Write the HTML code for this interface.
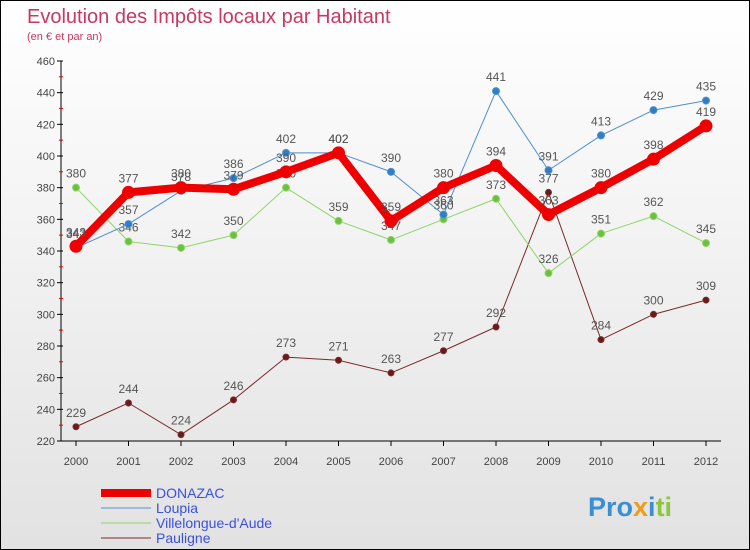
<!DOCTYPE html>
<html><head><meta charset="utf-8"><style>
body{margin:0}
#c{width:750px;height:550px;position:relative;box-sizing:border-box;border:1px solid #000;background:linear-gradient(#fff,#e2e2e2);font-family:"Liberation Sans",sans-serif;overflow:hidden}
svg text{font-family:"Liberation Sans",sans-serif}
</style></head><body>
<div id="c">
<svg width="750" height="550" id="s">
<text x="26" y="22" font-size="20" fill="#c8385f">Evolution des Impôts locaux par Habitant</text>
<text x="26" y="39" font-size="11" fill="#c8385f">(en € et par an)</text>
<g id="axes"></g><g id="series"></g>
<text x="587" y="515" font-size="27" font-weight="bold"><tspan fill="#3a8fd4">Pro</tspan><tspan fill="#f29a1a">x</tspan><tspan fill="#3a8fd4">i</tspan><tspan fill="#8cc63f">ti</tspan></text>
</svg></div>
<script>
const years=[2000,2001,2002,2003,2004,2005,2006,2007,2008,2009,2010,2011,2012];
const yTicks=[220,240,260,280,300,320,340,360,380,400,420,440,460];
const donazac=[343,377,380,379,390,402,359,380,394,363,380,398,419];
const loupia=[342,357,378,386,402,402,390,363,441,391,413,429,435];
const villelongue=[380,346,342,350,380,359,347,360,373,326,351,362,345];
const pauligne=[229,244,224,246,273,271,263,277,292,377,284,300,309];
const NS="http://www.w3.org/2000/svg";
const xS=i=>75+i*52.5, yS=v=>440-(v-220)*380/240;
function mk(t,a,p){const e=document.createElementNS(NS,t);for(const k in a)e.setAttribute(k,a[k]);p.appendChild(e);return e;}
const ax=document.getElementById('axes');
let l=mk('line',{x1:60,y1:60,x2:60,y2:440,stroke:'#000'},ax);

l=mk('line',{x1:60,y1:440,x2:720,y2:440,stroke:'#000'},ax);

yTicks.forEach((v,k)=>{const y=yS(v);
mk('line',{x1:56,y1:y,x2:62,y2:y,stroke:'#000'},ax);
if(k>0)mk('line',{x1:58,y1:y+15.8,x2:62,y2:y+15.8,stroke:'#e00'},ax);
const t=mk('text',{x:54,y:y+4,'font-size':11,fill:'#444','text-anchor':'end'},ax);t.textContent=v;
});
years.forEach((yr,i)=>{const x=xS(i);mk('line',{x1:x,y1:440,x2:x,y2:445,stroke:'#000'},ax);
const t=mk('text',{x:x,y:464,'font-size':11,fill:'#444','text-anchor':'middle'},ax);t.textContent=yr;
});
const sg=document.getElementById('series');
function draw(vals,color,w,r,name,dot,ly){
const g=mk('g',{},sg);
const p=mk('polyline',{points:vals.map((v,i)=>xS(i)+','+yS(v)).join(' '),fill:'none',stroke:color,'stroke-width':w,'stroke-linejoin':'round'},g);

vals.forEach((v,i)=>{const c=mk('circle',{cx:xS(i),cy:yS(v),r:r,fill:dot,stroke:color,'stroke-width':1},g);

const t=mk('text',{x:xS(i),y:yS(v)-10,'font-size':12,fill:'#555','text-anchor':'middle'},g);t.textContent=v;
});
const lg=mk('g',{},sg);
mk('line',{x1:100,y1:ly,x2:150,y2:ly,stroke:color,'stroke-width':w},lg);
const t=mk('text',{x:155,y:ly+5,'font-size':14,fill:'#3a50e0'},lg);t.textContent=name;}
draw(pauligne,'#7a2a2a',1,3,'Pauligne','#6a1a1a',537);
draw(villelongue,'#8fd468',1,3.5,'Villelongue-d\'Aude','#6cc040',522);
draw(loupia,'#4e8fcc',1,3.5,'Loupia','#2f7fc8',507);
draw(donazac,'#ee0000',8,6,'DONAZAC','#ee0000',492);
</script>
</body></html>
